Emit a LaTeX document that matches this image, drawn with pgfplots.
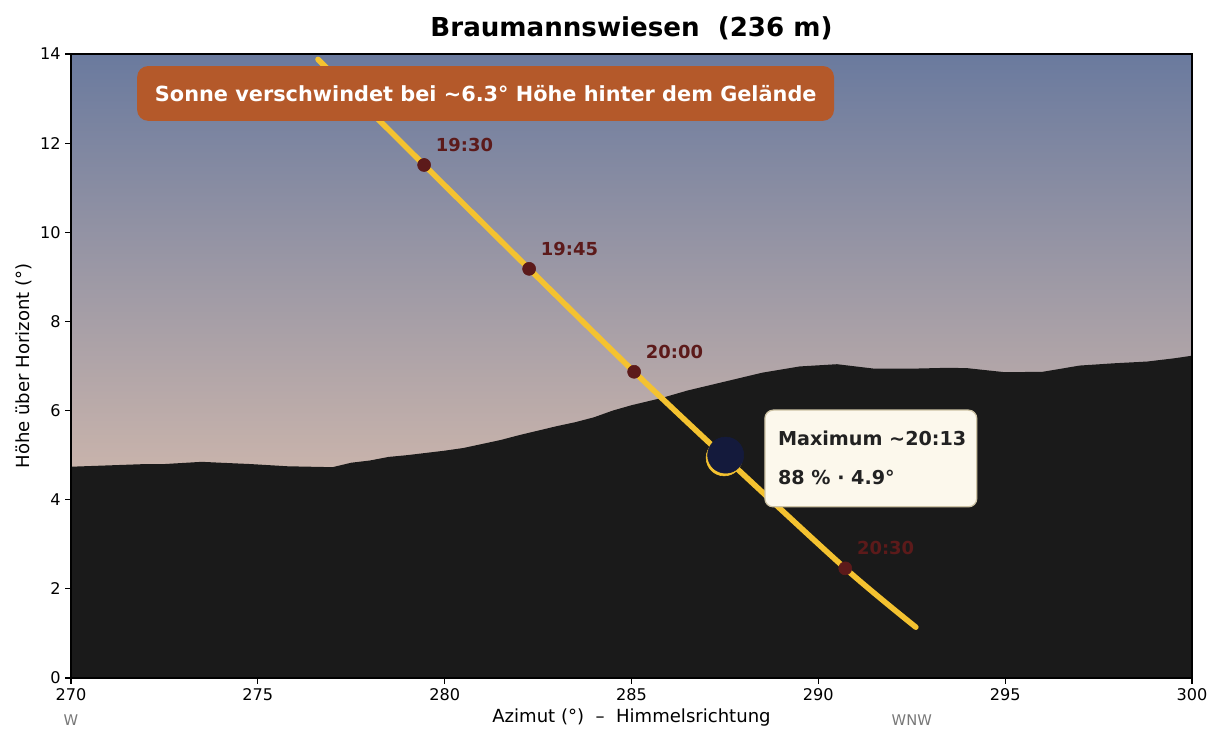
\documentclass[border=0pt]{standalone}
\usepackage{fontspec}
\setmainfont{DejaVu Sans}
\usepackage{pgfplots}
\usepackage{pgfplotstable}
\pgfplotsset{compat=1.18}
\definecolor{skytop}{RGB}{106,122,158}
\definecolor{skymid}{RGB}{202,173,188}
\definecolor{skybot}{RGB}{248,208,178}
\definecolor{terrain}{RGB}{26,26,26}
\definecolor{sunline}{RGB}{244,194,48}
\definecolor{maroon}{RGB}{92,26,26}
\definecolor{moon}{RGB}{20,26,60}
\definecolor{boxorange}{RGB}{180,89,42}
\definecolor{cream}{RGB}{252,248,236}
\definecolor{creamedge}{RGB}{205,195,165}
\definecolor{darktext}{RGB}{34,34,34}
\definecolor{graytext}{RGB}{120,120,120}

\pgfplotstableread{
az alt
270 4.74
271 4.77
272 4.80
272.5 4.80
273.5 4.85
274 4.83
274.8 4.80
275.8 4.75
277 4.73
277.5 4.83
278 4.88
278.5 4.96
279 5.00
280 5.10
280.5 5.16
281.5 5.34
282 5.45
283 5.65
283.5 5.74
284 5.85
284.5 6.00
285 6.12
285.8 6.28
286.5 6.45
287.5 6.65
288.5 6.85
289.5 6.99
290.5 7.04
291.5 6.94
292.5 6.94
293.5 6.96
294 6.95
295 6.86
296 6.87
297 7.01
297.9 7.06
298.8 7.10
299.5 7.17
300 7.23
}\terraintab

\pgfplotstableread{
az alt
276.61 13.88
279.45 11.51
282.26 9.18
285.07 6.87
287.50 4.95
290.72 2.46
292.61 1.14
}\sunpath

\pgfplotstableread{
az alt
279.45 11.51
282.26 9.18
285.07 6.87
290.72 2.46
}\timemarks

\begin{document}
\begin{tikzpicture}
\begin{axis}[
 at={(0,0)}, anchor=south west,
 scale only axis, width=807.12pt, height=449.28pt,
 xmin=270, xmax=300, ymin=0, ymax=14,
 xtick={270,275,...,300}, ytick={0,2,...,14},
 tick pos=left, tick align=outside, major tick length=4pt,
 axis line style={line width=0.9pt, black},
 every tick/.style={black, line width=0.9pt},
 ticklabel style={font=\fontsize{11.6}{14}\selectfont},
 /pgf/number format/assume math mode=true,
 xlabel={Azimut (°)\ \ –\ \ Himmelsrichtung},
 ylabel={Höhe über Horizont (°)},
 label style={font=\fontsize{13}{15}\selectfont},
 xlabel style={at={(axis description cs:0.5,-0.0641)}, anchor=center},
 ylabel style={at={(axis description cs:-0.04188,0.5)}, anchor=center},
 title={Braumannswiesen\ \ (236 m)},
 title style={at={(axis description cs:0.5,1.0273)}, anchor=center, font=\bfseries\fontsize{18.8}{22}\selectfont},
 axis background/.style={top color=skytop, middle color=skymid, bottom color=skybot},
 axis on top,
 clip mode=individual,
]
\addplot[fill=terrain, draw=none] table {\terraintab} \closedcycle;
\addplot[sunline, line width=4pt, line cap=round, smooth] table {\sunpath};
\addplot[only marks, mark=*, mark size=4.7pt, maroon] table {\timemarks};
\addplot[only marks, mark=*, mark size=13pt, sunline] coordinates {(287.48,4.94)};
\addplot[only marks, mark=*, mark size=13pt, moon] coordinates {(287.52,5.00)};

\node[anchor=west, xshift=5pt, yshift=14.4pt, text=maroon, font=\bfseries\fontsize{12.9}{15}\selectfont] at (axis cs:279.45,11.51) {19:30};
\node[anchor=west, xshift=5pt, yshift=14.4pt, text=maroon, font=\bfseries\fontsize{12.9}{15}\selectfont] at (axis cs:282.26,9.18) {19:45};
\node[anchor=west, xshift=5pt, yshift=14.4pt, text=maroon, font=\bfseries\fontsize{12.9}{15}\selectfont] at (axis cs:285.07,6.87) {20:00};
\node[anchor=west, xshift=5pt, yshift=14.4pt, text=maroon, font=\bfseries\fontsize{12.9}{15}\selectfont] at (axis cs:290.72,2.46) {20:30};

\fill[boxorange, rounded corners=8pt] (axis cs:271.77,13.73) rectangle (axis cs:290.42,12.50);
\node[text=white, font=\bfseries\fontsize{15}{18}\selectfont] at (axis cs:281.10,13.115) {Sonne verschwindet bei \textasciitilde6.3° Höhe hinter dem Gelände};

\filldraw[fill=cream, draw=creamedge, line width=0.9pt, rounded corners=6pt] (axis cs:288.57,6.01) rectangle (axis cs:294.24,3.84);
\node[anchor=west, text=darktext, font=\bfseries\fontsize{13.8}{16}\selectfont] at (axis cs:288.79,5.385) {Maximum \textasciitilde20:13};
\node[anchor=west, text=darktext, font=\bfseries\fontsize{13.8}{16}\selectfont] at (axis cs:288.79,4.51) {88 \% · 4.9°};

\node[text=graytext, font=\fontsize{10.6}{12}\selectfont] at (axis description cs:0,-0.0673) {W};
\node[text=graytext, font=\fontsize{10.6}{12}\selectfont, yshift=-30.24pt] at (axis cs:292.5,0) {WNW};
\end{axis}
\pgfresetboundingbox
\path[use as bounding box] (-51.12pt,-47.52pt) rectangle (830.16pt,488.16pt);
\end{tikzpicture}
\end{document}
